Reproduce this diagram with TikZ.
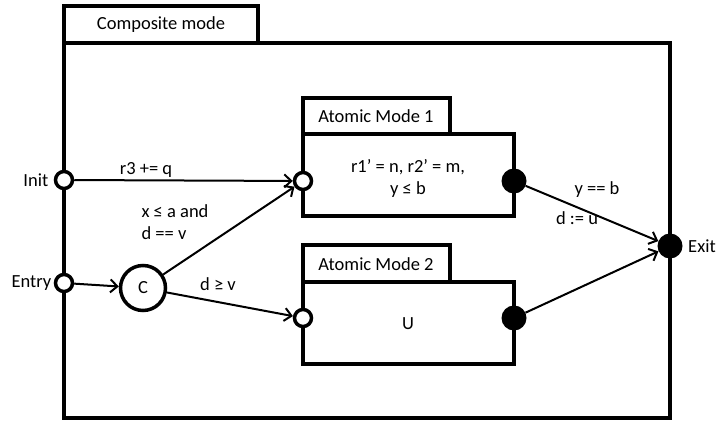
\documentclass[tikz,border=0pt]{standalone}
\usepackage{fontspec}
\setmainfont{Carlito}
\usetikzlibrary{arrows.meta}

\begin{document}
\begin{tikzpicture}[x=1pt, y=-1pt, font=\fontsize{18.5}{22}\selectfont,
		box/.style={line width=3.8pt},
		inport/.style={circle, draw, fill=white, line width=3.5pt, minimum size=17pt, inner sep=0pt},
		outport/.style={circle, fill=black, minimum size=25pt, inner sep=0pt},
		choice/.style={circle, draw, fill=white, line width=3.5pt, minimum size=45pt, inner sep=0pt},
		link/.style={line width=2pt, -{Straight Barb[length=7pt, width=13pt, line width=2pt]}}]
		\useasboundingbox (0,0) rectangle (728,427);
		% composite mode
		\draw[box] (64,6) rectangle (258,43);
		\draw[box] (64,43) rectangle (670,418);
		\node (comptitle) at (161,25) {Composite mode};
		% atomic modes
		\draw[box] (303,98) rectangle (450,134);
		\draw[box] (303,134) rectangle (514,216);
		\node (title1) at (376,116) {Atomic Mode 1};
		\node[align=center] (body1) at (408,178) {r1’ = n, r2’ = m,\\ y ≤ b};
		\draw[box] (303,245) rectangle (450,282);
		\draw[box] (303,282) rectangle (514,364);
		\node (title2) at (376,264) {Atomic Mode 2};
		\node (body2) at (408,324) {U};
		% ports
		\node[inport] (init) at (64,180) {};
		\node[inport] (entry) at (64,283) {};
		\node[choice] (c) at (143,288) {C};
		\node[inport] (in1) at (303,181) {};
		\node[inport] (in2) at (303,318) {};
		\node[outport] (out1) at (514,181) {};
		\node[outport] (out2) at (514,318) {};
		\node[outport] (exit) at (670,246) {};
		\node[left=2pt] at (init.west) {Init};
		\node[left=-1pt] at (entry.west) {Entry};
		\node[right=2pt] at (exit.east) {Exit};
		% transitions
		\draw[link] (init) -- (in1);
		\draw[link] (entry) -- (c);
		\draw[link] (c) -- (in2);
		\draw[link] (c) -- (in1);
		\draw[link] (out1) -- (exit);
		\draw[link] (out2) -- (exit);
		\node (lbl1) at (146,170) {r3 += q};
		\node[align=left] (lbl2) at (175,222) {x ≤ a and\\ d == v};
		\node (lbl3) at (218,284) {d ≥ v};
		\node (lbl4) at (597,190) {y == b};
		\node (lbl5) at (577,218) {d := u};
	\end{tikzpicture}
\end{document}
